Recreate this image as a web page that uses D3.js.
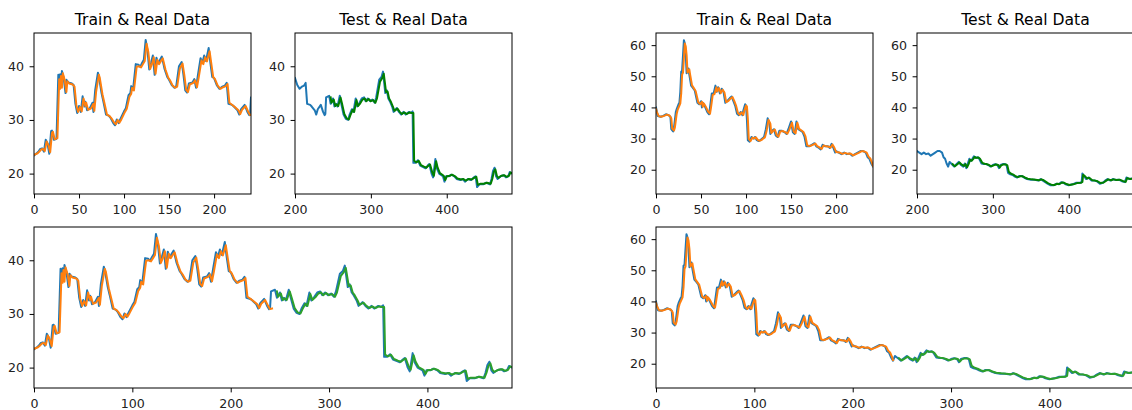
<!DOCTYPE html>
<html>
<head>
<meta charset="utf-8">
<title>Train & Real Data</title>
<script src="https://cdn.jsdelivr.net/npm/d3@7"></script>
<style>
  body { margin: 0; background: #fff; }
  text { font-family: "DejaVu Sans", sans-serif; }
</style>
</head>
<body>
<script>
// datos: [indice, valor]
var leftReal = [[0,23.4],[3,23.8],[5,24.1],[7,24.6],[9,24.7],[11,24.1],[13,26.3],[15,25.6],[17,23.7],[19,27.9],[20,28],[22,26.3],[25,26.5],[27,38.4],[28,36],[29,38.5],[30,36.2],[31,39.1],[33,37.8],[35,35],[36,37.5],[38,37],[42,36.8],[44,36.5],[46,33],[48,31.3],[50,32.6],[52,31.5],[54,34.4],[56,32.5],[57,33.4],[59,31.8],[62,32.2],[65,33.2],[66,31.5],[68,35.6],[71,38.8],[72,38.2],[75,35],[77,33.5],[80,31],[83,30.8],[85,30.4],[88,29.4],[90,29],[92,30.1],[94,29.4],[96,30.2],[100,31.6],[102,32.2],[105,34.6],[107,35],[108,36.3],[110,35.6],[113,40.4],[116,40.3],[118,39.9],[120,40.6],[122,41.2],[124,44.9],[126,43],[128,39.4],[130,40.6],[132,42],[134,38.4],[136,41.6],[138,40.5],[140,41.2],[142,41.8],[145,39.5],[148,38],[150,37.5],[153,36.5],[156,36],[158,36.3],[161,40],[164,40.8],[166,38.4],[168,35.5],[170,35.1],[172,36.8],[176,37],[178,37.6],[180,36],[182,38.3],[185,41.5],[187,40.6],[189,42],[191,41],[194,43.4],[196,40.5],[198,38],[200,37.8],[203,36.5],[206,35.8],[209,36.2],[212,36.4],[214,36.9],[216,33],[220,32.8],[222,32.5],[226,31.8],[228,31],[230,32],[234,32.8],[237,31.5],[239,30.9],[240,31.1],[241,34.2],[245,34.5],[247,33],[250,34],[252,32.5],[254,33],[256,32.5],[259,34.5],[261,33],[264,31],[267,30.2],[270,30],[272,31],[275,32],[277,31.5],[280,34],[282,32.5],[285,33.2],[288,34],[291,34.2],[293,33.5],[296,34],[299,33.5],[302,33.8],[305,33.2],[307,34.2],[311,37.5],[314,38],[316,39],[319,35],[321,35.5],[323,34],[325,33.5],[328,32.5],[330,31.5],[334,32.2],[337,31.5],[340,31],[343,31.5],[346,31],[350,31.5],[353,31.3],[355,31.6],[356,22],[359,22],[362,22.5],[365,21.5],[369,21.2],[372,21],[375,21.5],[377,21.8],[380,20],[382,19.3],[385,22.7],[387,21],[390,20],[395,19.5],[397,18.5],[399,19.5],[403,19.5],[406,19.8],[410,19.5],[413,19],[418,18.8],[421,19],[424,18.5],[428,19],[432,18.8],[436,19.3],[438,19.5],[440,17.5],[443,18],[448,18],[452,18.3],[457,18],[459,19],[461,20.5],[463,21.1],[465,19.5],[467,19],[471,19.5],[475,19.7],[478,19.3],[481,19.5],[483,20.3],[486,20]];

var leftTrain = [[0,23.5],[4,23.8],[6,24.1],[8,24.5],[10,24.6],[12,24.2],[14,26],[16,25.3],[18,24],[20,27.6],[21,27.8],[23,26.4],[26,26.6],[28,37.6],[29,35.8],[30,38.2],[31,36],[32,38.7],[34,37.5],[36,35.2],[37,37.2],[39,36.8],[43,36.6],[45,36.2],[47,32.8],[49,31.5],[51,32.4],[53,31.6],[55,34],[57,32.6],[58,33.2],[60,31.9],[63,32.1],[66,33],[67,31.7],[69,35.3],[72,38.4],[73,37.9],[76,34.8],[78,33.3],[81,31],[84,30.7],[86,30.3],[89,29.5],[91,29.2],[93,30],[95,29.5],[97,30.1],[101,31.5],[103,32.1],[106,34.3],[108,34.9],[109,36],[111,35.5],[114,39.9],[117,40],[119,39.8],[121,40.4],[123,41],[125,44.2],[127,42.6],[129,39.5],[131,40.4],[133,41.7],[135,38.6],[137,41.2],[139,40.4],[141,41],[143,41.5],[146,39.4],[149,37.9],[151,37.4],[154,36.4],[157,36],[159,36.2],[162,39.6],[165,40.5],[167,38.3],[169,35.6],[171,35.2],[173,36.6],[177,36.9],[179,37.4],[181,36.1],[183,38],[186,41.1],[188,40.4],[190,41.7],[192,40.9],[195,42.8],[197,40.4],[199,38],[201,37.6],[204,36.4],[207,35.8],[210,36.1],[213,36.3],[215,36.7],[217,33.2],[221,32.7],[223,32.4],[227,31.8],[229,31.1],[231,31.9],[235,32.6],[238,31.5],[240,30.9],[242,31]];

var leftTest = [[247,34.2],[248,33.2],[251,33.8],[253,32.6],[255,32.9],[257,32.6],[260,34.2],[262,33],[265,31.1],[268,30.3],[271,30.1],[273,30.9],[276,31.9],[278,31.5],[281,33.7],[283,32.6],[286,33.1],[289,33.8],[292,34],[294,33.5],[297,33.9],[300,33.5],[303,33.7],[306,33.2],[308,34],[312,37.1],[315,37.8],[317,38.6],[320,35.2],[322,35.3],[324,34],[326,33.5],[329,32.5],[331,31.7],[335,32.1],[338,31.5],[341,31.1],[344,31.4],[347,31.1],[351,31.4],[354,31.3],[356,31.3],[357,22.4],[360,22.1],[363,22.4],[366,21.6],[370,21.3],[373,21.1],[376,21.5],[378,21.7],[381,20.2],[383,19.6],[386,22.3],[388,21.1],[391,20.1],[396,19.6],[398,18.8],[400,19.5],[404,19.6],[407,19.8],[411,19.5],[414,19.1],[419,18.9],[422,19],[425,18.7],[429,19],[433,18.9],[437,19.3],[439,19.4],[441,17.9],[444,18.1],[449,18.1],[453,18.3],[458,18.1],[460,19],[462,20.3],[464,20.8],[466,19.6],[468,19.2],[472,19.6],[476,19.7],[479,19.4],[482,19.6],[484,20.2],[486,20.1]];

var rightReal = [[0,40],[2,37.2],[5,37],[8,37.3],[11,37.8],[14,37.5],[16,37],[17,33],[19,32.3],[20,33.5],[22,38.5],[23,39.5],[25,41],[26,41.5],[27,45],[28,51.5],[29,51.8],[31,61.6],[32,60.5],[33,57.5],[34,51],[36,52.5],[37,50.5],[39,47],[41,46.3],[43,45.5],[46,41.5],[48,41],[50,42],[51,40],[52,41.5],[54,40.5],[57,38.5],[59,37.8],[60,40],[62,44.5],[64,44.5],[66,47],[67,45],[69,46.5],[71,44.5],[73,46],[75,45],[77,41.5],[79,42],[82,43],[84,43.5],[86,42],[88,40.5],[90,38],[92,37.5],[94,38.5],[96,37.5],[97,39],[99,41],[100,40.5],[101,36],[102,29.5],[104,29],[106,30.5],[108,30],[110,30.5],[112,29.5],[114,29.2],[116,29.5],[118,30],[120,30.5],[122,33],[124,36.5],[126,35],[127,31.5],[129,32.5],[131,33],[133,31],[135,30.5],[137,32.5],[140,32.5],[143,32],[145,31.5],[147,33],[150,35.5],[152,32],[154,31.5],[156,35.5],[158,33],[161,32.5],[163,32],[165,30.5],[167,27.5],[170,27.5],[173,28],[176,28.5],[178,27.5],[181,27],[183,26.5],[185,28],[188,27.5],[191,27.5],[193,27],[195,28.3],[197,27],[199,25.5],[200,26],[203,25.5],[206,25],[209,25.5],[212,25],[215,25.2],[218,24.5],[221,25],[224,25.5],[227,26],[230,26],[233,25.5],[235,24],[237,23.5],[239,22],[241,21],[243,22.5],[245,22],[247,21.5],[249,21],[251,21.5],[253,22],[255,22.5],[258,21.5],[261,21],[263,22],[265,20.5],[267,22],[269,23.5],[271,22.8],[273,23.5],[275,24.3],[277,23.8],[280,24],[282,23.5],[285,22],[288,21.8],[291,21.8],[294,21.5],[297,21],[300,21.5],[303,21.8],[306,21.5],[308,20.5],[310,21.5],[313,21.8],[316,21.8],[318,21.5],[320,19],[323,18.5],[326,18.3],[329,17.8],[332,17.5],[335,18],[338,18],[341,17.5],[345,17],[350,16.8],[355,16.8],[360,16.5],[363,17],[366,16.5],[369,16],[372,15.5],[376,15],[380,15],[384,15.5],[387,15.3],[390,16],[393,15.8],[396,15.3],[400,15],[405,15.3],[410,15.8],[415,15.8],[417,16],[418,18.8],[420,18],[423,17],[426,17.5],[430,16.5],[434,16.5],[437,16.3],[441,15.5],[445,15.8],[448,16.5],[451,17],[455,16.5],[458,17],[462,16.7],[466,16.8],[470,16.3],[474,16],[476,17.5],[480,17],[484,17.2],[487,17.2]];

var rightTrain = [[0,39.5],[1,38.5],[3,37.2],[6,37],[9,37.3],[12,37.7],[15,37.4],[17,36.5],[18,33.2],[20,32.6],[21,33.6],[23,38],[24,39.2],[26,40.6],[27,41.3],[28,44.5],[29,50.5],[30,51.2],[32,60.5],[33,59.6],[34,56.8],[35,51.2],[37,52.2],[38,50.4],[40,47.1],[42,46.2],[44,45.3],[47,41.6],[49,41.1],[51,41.8],[52,40.2],[53,41.3],[55,40.4],[58,38.6],[60,38],[61,39.8],[63,44],[65,44.3],[67,46.5],[68,45.1],[70,46.2],[72,44.6],[74,45.7],[76,44.8],[78,41.7],[80,42],[83,42.9],[85,43.3],[87,42],[89,40.5],[91,38.2],[93,37.6],[95,38.4],[97,37.6],[98,38.8],[100,40.6],[101,40.3],[102,36.4],[103,29.9],[105,29.2],[107,30.3],[109,30],[111,30.4],[113,29.6],[115,29.3],[117,29.5],[119,30],[121,30.4],[123,32.7],[125,36],[127,34.8],[128,31.8],[130,32.4],[132,32.9],[134,31.1],[136,30.6],[138,32.3],[141,32.4],[144,32],[146,31.6],[148,32.8],[151,35.1],[153,32.2],[155,31.7],[157,35.1],[159,33.1],[162,32.5],[164,32],[166,30.7],[168,27.8],[171,27.6],[174,28],[177,28.4],[179,27.6],[182,27.1],[184,26.7],[186,27.8],[189,27.5],[192,27.4],[194,27.1],[196,28.1],[198,27.1],[200,25.7],[204,25.5],[207,25.1],[210,25.4],[213,25.1],[216,25.2],[219,24.6],[222,25],[225,25.4],[228,25.9],[231,25.9],[234,25.5],[236,24.2],[238,23.6],[240,22.2],[241,21.2]];

var rightTest = [[247,21.8],[248,21.5],[250,21.1],[252,21.5],[254,21.9],[256,22.3],[259,21.6],[262,21.2],[264,21.8],[266,20.8],[268,21.8],[270,23.2],[272,22.9],[274,23.4],[276,24.1],[278,23.8],[281,23.9],[283,23.5],[286,22.2],[289,21.9],[292,21.8],[295,21.5],[298,21.1],[301,21.4],[304,21.7],[307,21.5],[309,20.7],[311,21.4],[314,21.7],[317,21.7],[319,21.4],[321,19.3],[324,18.7],[327,18.4],[330,17.9],[333,17.6],[336,17.9],[339,17.9],[342,17.5],[346,17.1],[351,16.9],[356,16.8],[361,16.6],[364,16.9],[367,16.6],[370,16.1],[373,15.6],[377,15.2],[381,15.1],[385,15.5],[388,15.4],[391,15.9],[394,15.8],[397,15.4],[401,15.1],[406,15.3],[411,15.7],[416,15.8],[418,16.1],[419,18.4],[421,18],[424,17.2],[427,17.4],[431,16.6],[435,16.5],[438,16.3],[442,15.7],[446,15.9],[449,16.4],[452,16.9],[456,16.6],[459,16.9],[463,16.7],[467,16.8],[471,16.4],[475,16.1],[477,17.3],[481,17],[485,17.2],[487,17.2]];

// ticks
var trainXTicks = [0, 50, 100, 150, 200];
var testXTicks = [200, 300, 400];
var allXTicks = [0, 100, 200, 300, 400];
var leftYTicks = [20, 30, 40];
var rightYTicks = [20, 30, 40, 50, 60];
var titles = ["Train & Real Data", "Test & Real Data"];

var width = 1132, height = 410;
var figOffset = 622; // la segunda figura esta desplazada
var tick = 4.4;
var lw = 2;
var blue = "#1f77b4", orange = "#ff7f0e", green = "#008000", green2 = "#2ca02c";

var svg = d3.select("body").append("svg")
    .attr("width", width)
    .attr("height", height);

var clipId = 0;

// un subplot estilo matplotlib
var drawAxes = function(g, box, xDom, yDom, xTicks, yTicks, series, title) {
    var x = d3.scaleLinear().domain(xDom).range([box.x, box.x + box.w]);
    var y = d3.scaleLinear().domain(yDom).range([box.y + box.h, box.y]);

    clipId++;
    g.append("clipPath").attr("id", "clip" + clipId)
        .append("rect")
        .attr("x", box.x).attr("y", box.y)
        .attr("width", box.w).attr("height", box.h);

    var line = d3.line()
        .x(function(d) { return x(d[0]); })
        .y(function(d) { return y(d[1]); });

    var lines = g.append("g").attr("clip-path", "url(#clip" + clipId + ")");
    series.forEach(function(s) {
        lines.append("path")
            .attr("d", line(s.data))
            .attr("fill", "none")
            .attr("stroke", s.color)
            .attr("stroke-width", lw)
            .attr("stroke-linejoin", "round")
            .attr("stroke-linecap", "square");
    });

    var xAxis = g.append("g")
        .attr("transform", "translate(0," + (box.y + box.h) + ")")
        .call(d3.axisBottom(x).tickValues(xTicks).tickSize(tick).tickPadding(7).tickSizeOuter(0));
    var yAxis = g.append("g")
        .attr("transform", "translate(" + box.x + ",0)")
        .call(d3.axisLeft(y).tickValues(yTicks).tickSize(tick).tickPadding(5.6).tickSizeOuter(0));

    [xAxis, yAxis].forEach(function(a) {
        a.select(".domain").remove();
        a.selectAll("line").attr("stroke", "#000").attr("stroke-width", 1);
        a.selectAll("text")
            .attr("fill", "#222")
            .style("font-family", "'DejaVu Sans', sans-serif")
            .style("font-size", "12.6px");
    });

    // marco
    g.append("rect")
        .attr("x", box.x).attr("y", box.y)
        .attr("width", box.w).attr("height", box.h)
        .attr("fill", "none")
        .attr("stroke", "#000")
        .attr("stroke-width", 1);

    if (title) {
        g.append("text")
            .attr("x", box.x + box.w / 2)
            .attr("y", box.y - 8.5)
            .attr("text-anchor", "middle")
            .attr("fill", "#000")
            .style("font-size", "15.6px")
            .text(title);
    }
};

var drawFigure = function(offset, real, train, test, yDom, yTicks) {
    var g = svg.append("g").attr("transform", "translate(" + offset + ",0)");
    drawAxes(g, {x: 34, y: 33, w: 217, h: 161}, [0, 241], yDom, trainXTicks, yTicks,
        [{data: real, color: blue}, {data: train, color: orange}], titles[0]);
    drawAxes(g, {x: 295, y: 33, w: 217, h: 161}, [200, 486], yDom, testXTicks, yTicks,
        [{data: real.filter(function(d) { return d[0] >= 200; }), color: blue}, {data: test, color: green}], titles[1]);
    drawAxes(g, {x: 34, y: 227, w: 478, h: 161}, [0, 486], yDom, allXTicks, yTicks,
        [{data: real, color: blue}, {data: train, color: orange}, {data: test, color: green2}], null);
};

svg.append("rect").attr("width", width).attr("height", height).attr("fill", "#fff");
drawFigure(0, leftReal, leftTrain, leftTest, [16.2, 46.2], leftYTicks);
drawFigure(figOffset, rightReal, rightTrain, rightTest, [12.2, 63.9], rightYTicks);
</script>
</body>
</html>
